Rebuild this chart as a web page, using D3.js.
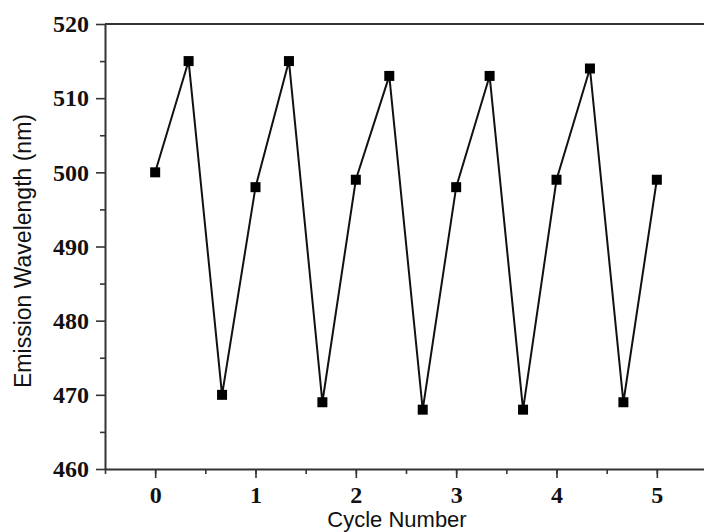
<!DOCTYPE html>
<html>
<head>
<meta charset="utf-8">
<script src="https://cdn.jsdelivr.net/npm/d3@7"></script>
<style>
  html, body { margin: 0; padding: 0; background: #fff; }
  svg { display: block; }
</style>
</head>
<body>
<div id="chart"></div>
<script>
// cycle index (three steps per cycle) and the measured emission peak
const cycles = [0, 1 / 3, 2 / 3, 1, 4 / 3, 5 / 3, 2, 7 / 3, 8 / 3, 3, 10 / 3, 11 / 3, 4, 13 / 3, 14 / 3, 5]
const wavelengths = [500, 515, 470, 498, 515, 469, 499, 513, 468, 498, 513, 468, 499, 514, 469, 499]
const xTicks = [0, 1, 2, 3, 4, 5]
const yTicks = [460, 470, 480, 490, 500, 510, 520]

const width = 704
const height = 532
const margin = { top: 24, right: -3, bottom: 63, left: 105 }

const svg = d3.select('#chart')
  .append('svg')
  .attr('width', width)
  .attr('height', height)

const x = d3.scaleLinear()
  .domain([-0.5, 5.5])
  .range([margin.left, width - margin.right])

const y = d3.scaleLinear()
  .domain([460, 520])
  .range([height - margin.bottom, margin.top])

const tickFont = 'Liberation Serif, Times New Roman, serif'
const labelFont = 'Liberation Sans, Arial, sans-serif'

// minor ticks first so major ones sit on top
svg.append('g')
  .attr('transform', `translate(0, ${y(460)})`)
  .call(d3.axisBottom(x).tickValues(d3.range(-0.5, 5.51, 0.5)).tickSize(5).tickFormat(''))
  .call(g => g.select('.domain').remove())
  .call(g => g.selectAll('line').attr('stroke', '#333').attr('stroke-width', 1.6))

svg.append('g')
  .attr('transform', `translate(${x(-0.5)}, 0)`)
  .call(d3.axisLeft(y).tickValues(d3.range(465, 520, 10)).tickSize(5).tickFormat(''))
  .call(g => g.select('.domain').remove())
  .call(g => g.selectAll('line').attr('stroke', '#333').attr('stroke-width', 1.6))

const xAxis = svg.append('g')
  .attr('transform', `translate(0, ${y(460)})`)
  .call(d3.axisBottom(x).tickValues(xTicks).tickSize(9).tickSizeOuter(0).tickPadding(8).tickFormat(d3.format('d')))

const yAxis = svg.append('g')
  .attr('transform', `translate(${x(-0.5)}, 0)`)
  .call(d3.axisLeft(y).tickValues(yTicks).tickSize(9).tickSizeOuter(0).tickPadding(7).tickFormat(d3.format('d')))

;[xAxis, yAxis].forEach(g => {
  g.select('.domain').attr('stroke', '#333').attr('stroke-width', 2)
  g.selectAll('.tick line').attr('stroke', '#333').attr('stroke-width', 1.6)
  g.selectAll('.tick text')
    .attr('fill', '#111')
    .attr('font-family', tickFont)
    .attr('font-weight', 'bold')
    .attr('font-size', '24px')
})

// top frame line
svg.append('line')
  .attr('x1', x(-0.5))
  .attr('x2', width)
  .attr('y1', y(520))
  .attr('y2', y(520))
  .attr('stroke', '#333')
  .attr('stroke-width', 2)

const points = cycles.map((c, i) => ({ c, w: wavelengths[i] }))

svg.append('path')
  .datum(points)
  .attr('fill', 'none')
  .attr('stroke', '#111')
  .attr('stroke-width', 2)
  .attr('d', d3.line().x(d => x(d.c)).y(d => y(d.w)))

const size = 10
svg.selectAll('rect.marker')
  .data(points)
  .enter()
  .append('rect')
  .attr('class', 'marker')
  .attr('x', d => x(d.c) - size / 2)
  .attr('y', d => y(d.w) - size / 2)
  .attr('width', size)
  .attr('height', size)
  .attr('fill', '#000')

svg.append('text')
  .attr('x', 397)
  .attr('y', 527)
  .attr('text-anchor', 'middle')
  .attr('font-family', labelFont)
  .attr('font-size', '22px')
  .attr('fill', '#111')
  .text('Cycle Number')

svg.append('text')
  .attr('transform', `translate(31, 251) rotate(-90)`)
  .attr('text-anchor', 'middle')
  .attr('font-family', labelFont)
  .attr('font-size', '23px')
  .attr('fill', '#111')
  .text('Emission Wavelength (nm)')
</script>
</body>
</html>
